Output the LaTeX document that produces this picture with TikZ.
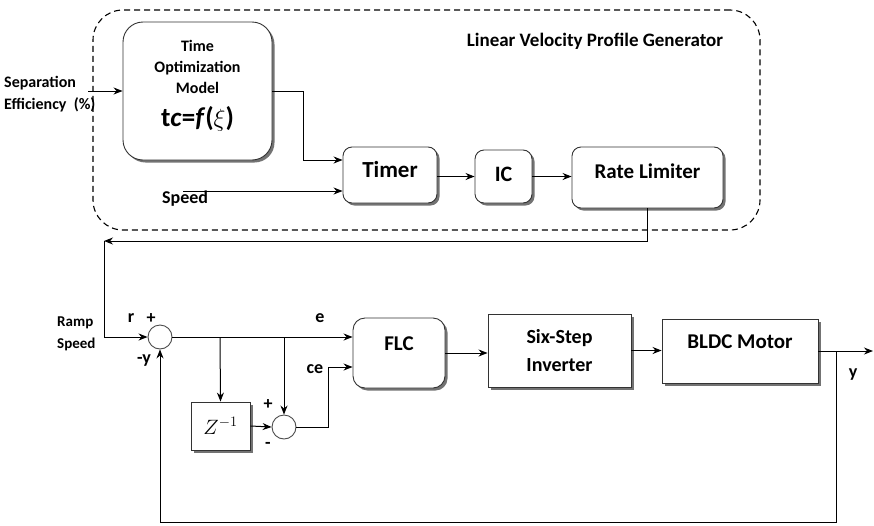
\documentclass[tikz,border=0pt]{standalone}
\usepackage{fontspec}
\setmainfont{Carlito}
\usetikzlibrary{arrows.meta, positioning, shadows, calc}
\tikzset{
  blk/.style={rectangle, rounded corners=#1, draw=black!80, fill=white, line width=0.9pt,
              drop shadow={shadow xshift=2.5pt, shadow yshift=-2.5pt, fill=black!55, opacity=1},
              align=center, inner sep=0pt, font=\fontsize{21}{24}\selectfont\bfseries},
  blk/.default=9pt,
  lift/.style={text height=14pt, text depth=#1},
  sumnode/.style={circle, draw=black!70, fill=white, minimum size=24pt, inner sep=0pt, line width=0.9pt},
  sig/.style={-{Stealth[length=9pt, width=7pt]}, line width=1pt},
  lbl/.style={font=\fontsize{18}{20}\selectfont\bfseries, inner sep=1pt},
  inlbl/.style={font=\fontsize{16}{22}\selectfont\bfseries, align=left, anchor=west, inner sep=0pt},
}
\begin{document}
\begin{tikzpicture}[x=1pt, y=-1pt]
  \useasboundingbox (0,0) rectangle (874,525);

  % profile generator frame
  \node[draw, dashed, dash pattern=on 6pt off 4pt, line width=1.1pt, rounded corners=30pt,
        minimum width=667pt, minimum height=220pt] (lvpg) at (426.5,120) {};
  \node[font=\fontsize{19}{21}\selectfont\bfseries] (title) at (595,41) {Linear Velocity Profile Generator};

  \node[blk=20pt, minimum width=149pt, minimum height=138pt, font=\fontsize{16}{21}\selectfont\bfseries] (tom) at (197.5,91)
       {Time\\Optimization\\Model\\[12pt]{\fontsize{27}{27}\selectfont t\textit{c}=\textit{f}(\textmd{$\xi$})}\\[-6pt]};
  \node[blk, lift=9pt, minimum width=94pt, minimum height=56pt, font=\fontsize{23}{24}\selectfont\bfseries] (timer) at (390,175) {Timer};
  \node[blk, lift=5pt, minimum width=57pt, minimum height=53pt, font=\fontsize{22}{24}\selectfont\bfseries] (ic) at (503.5,176.5) {IC};
  \node[blk, lift=13pt, minimum width=151pt, minimum height=61pt] (rate) at (647.5,177.5) {Rate Limiter};

  % inputs of the generator
  \node[inlbl] (sep) at (4,94) {Separation\\Efficiency\ \ (\%)};
  \node[inlbl, font=\fontsize{18}{20}\selectfont\bfseries] (spd) at (162,199) {Speed};
  \coordinate (sepin) at (88,91);
  \coordinate (spdin) at (183,191);
  \draw[sig] (sepin) -- (tom.west);
  \draw[sig] (spdin) -- (spdin -| timer.west);
  \draw[sig] (tom.east) -- ++(31,0) |- ($(timer.west)+(0,-15)$);
  \draw[sig] (ic.west -| timer.east) -- (ic.west);
  \draw[sig] (ic.east) -- (ic.east -| rate.west);

  % control loop
  \node[sumnode] (s1) at (160,337) {};
  \node[sumnode] (s2) at (284,427) {};
  \node[blk=0pt, minimum width=59pt, minimum height=48pt, font=\fontsize{21}{22}\selectfont] (zdel) at (220.5,426) {$Z^{-1}$};
  \node[blk=12pt, lift=20pt, minimum width=92pt, minimum height=70pt] (flc) at (399,353) {FLC};
  \node[blk=0pt, minimum width=143pt, minimum height=73pt, font=\fontsize{20}{28}\selectfont\bfseries] (inv) at (559.5,350.5) {Six-Step\\Inverter};
  \node[blk=0pt, lift=20pt, minimum width=156pt, minimum height=64pt] (bldc) at (740,351) {BLDC Motor};

  \node[inlbl, font=\fontsize{15}{22}\selectfont\bfseries] (ramp) at (57,334) {Ramp\\Speed};
  \node[lbl] (rlbl) at (131,318) {r};
  \node[lbl] (p1) at (151,319) {+};
  \node[lbl] (mylbl) at (144,361) {-y};
  \node[lbl] (elbl) at (320,318) {e};
  \node[lbl] (celbl) at (315,369) {ce};
  \node[lbl] (p2) at (268,405) {+};
  \node[lbl] (m2) at (268,445) {-};
  \node[lbl] (ylbl) at (853,375) {y};

  \coordinate (ret) at (104,241);
  \coordinate (b1) at (220,337);
  \coordinate (b2) at (284,337);
  \coordinate (yout) at (873,351);
  \coordinate (fb) at (836,351);
  \coordinate (fbb) at (836,522);

  \draw[sig] (rate.south) |- (ret);
  \draw[sig] (ret) |- (s1.west);
  \draw[sig] (s1.east) -- (s1.east -| flc.west);
  \draw[sig] (b1) -- (zdel.north);
  \draw[sig] (b2) -- (s2.north);
  \draw[sig] (zdel.east) -- (s2.west);
  \draw[sig] (s2.east) -- ++(32,0) |- ($(flc.west)+(0,14)$);
  \draw[sig] (flc.east) -- (flc.east -| inv.west);
  \draw[sig] (inv.east) -- (inv.east -| bldc.west);
  \draw[sig] (bldc.east) -- (yout);
  \draw[sig] (fb) -- (fbb) -| (s1.south);
\end{tikzpicture}
\end{document}
